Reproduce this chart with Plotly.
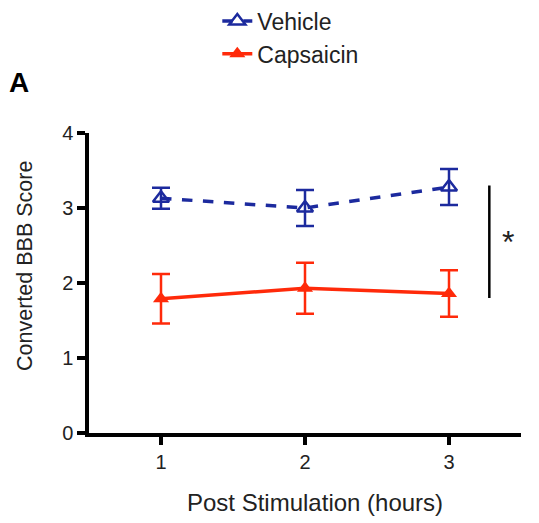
import plotly.graph_objects as go

hours = [1, 2, 3]
vehicle_mean = [3.13, 3.00, 3.28]
vehicle_sem = [0.14, 0.24, 0.24]
capsaicin_mean = [1.79, 1.93, 1.86]
capsaicin_sem = [0.33, 0.34, 0.31]

BLUE = "#1c2a9e"
RED = "#ff2a0a"
FONT = "Liberation Sans, Arial, sans-serif"

fig = go.Figure()
fig.add_trace(go.Scatter(
    x=hours, y=vehicle_mean, name="Vehicle", mode="lines+markers",
    line=dict(color=BLUE, width=3.5, dash="dash"),
    marker=dict(symbol="triangle-up-open", size=14, color=BLUE, line=dict(width=2.5, color=BLUE)),
    error_y=dict(type="data", array=vehicle_sem, color=BLUE, thickness=2.5, width=9),
    legendgroup="v",
))
fig.add_trace(go.Scatter(
    x=hours, y=capsaicin_mean, name="Capsaicin", mode="lines+markers",
    line=dict(color=RED, width=3.5),
    marker=dict(symbol="triangle-up", size=14, color=RED),
    error_y=dict(type="data", array=capsaicin_sem, color=RED, thickness=2.5, width=9),
    legendgroup="c",
))

# significance bar
fig.add_shape(type="line", xref="x", yref="y", x0=3.28, x1=3.28, y0=1.8, y1=3.3,
              line=dict(color="black", width=2.5))
fig.add_annotation(x=3.41, y=2.55, xref="x", yref="y", text="*", showarrow=False,
                   font=dict(size=32, color="#222", family=FONT))
fig.add_annotation(x=-0.19, y=1.17, xref="paper", yref="paper", text="<b>A</b>", showarrow=False,
                   xanchor="left", yanchor="middle", font=dict(size=28, color="black", family=FONT))
# axis titles
fig.add_annotation(x=-0.148, y=0.557, xref="paper", yref="paper", text="Converted BBB Score",
                   textangle=-90, showarrow=False, xanchor="center", yanchor="middle",
                   font=dict(size=21.5, color="#222", family=FONT))
fig.add_annotation(x=0.523, y=-0.233, xref="paper", yref="paper", text="Post Stimulation (hours)",
                   showarrow=False, xanchor="center", yanchor="middle",
                   font=dict(size=24, color="#222", family=FONT))

fig.update_layout(
    width=539, height=523,
    margin=dict(l=89, r=18, t=133, b=90, autoexpand=False),
    plot_bgcolor="white", paper_bgcolor="white",
    font=dict(family=FONT, size=20, color="#222"),
    showlegend=True,
    legend=dict(x=0.297, y=1.445, xanchor="left", yanchor="top", font=dict(size=23),
                tracegroupgap=0, bgcolor="rgba(0,0,0,0)"),
    xaxis=dict(range=[0.5, 3.5], tickvals=hours, ticktext=["1", "2", "3"],
               showline=True, linecolor="black", linewidth=3.5, ticks="outside",
               ticklen=8, tickwidth=3.5, tickcolor="black", showgrid=False, zeroline=False,
               automargin=False, tickfont=dict(size=20)),
    yaxis=dict(range=[0, 4], tickvals=[0, 1, 2, 3, 4],
               showline=True, linecolor="black", linewidth=3.5, ticks="outside",
               ticklen=8, tickwidth=3.5, tickcolor="black", showgrid=False, zeroline=False,
               automargin=False, tickfont=dict(size=20)),
)

fig.write_html("out.html", config={"displayModeBar": False},
               post_script="document.body.style.margin='0';")
